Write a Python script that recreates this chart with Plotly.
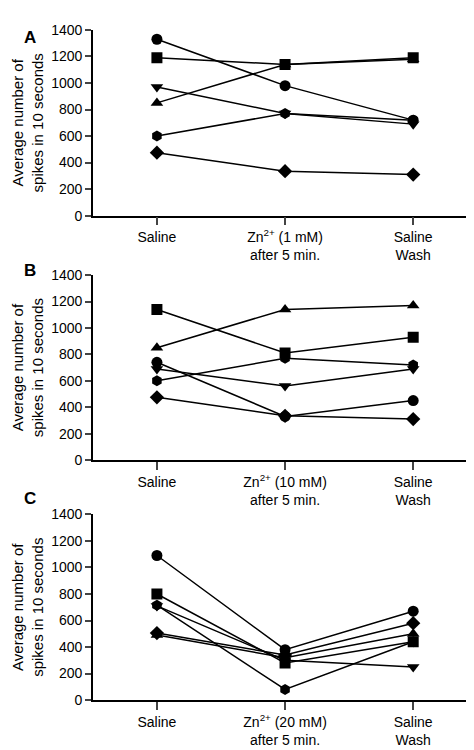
import plotly.graph_objects as go

conds_A = ["Saline", "Zn<sup>2+</sup> (1 mM)<br>after 5 min.", "Saline<br>Wash"]
conds_B = ["Saline", "Zn<sup>2+</sup> (10 mM)<br>after 5 min.", "Saline<br>Wash"]
conds_C = ["Saline", "Zn<sup>2+</sup> (20 mM)<br>after 5 min.", "Saline<br>Wash"]

symbols = ["circle", "square", "triangle-up", "triangle-down", "hexagon", "diamond"]

A = [[1330, 980, 720], [1190, 1140, 1190], [850, 1140, 1180],
     [970, 770, 690], [600, 770, 720], [475, 335, 310]]
B = [[740, 330, 450], [1140, 810, 930], [850, 1140, 1170],
     [690, 560, 690], [600, 770, 720], [475, 335, 310]]
C = [[1090, 380, 670], [800, 280, 440], [490, 320, 500],
     [710, 300, 250], [715, 80, 440], [505, 340, 580]]

panels = [("A", A, conds_A, (0.728, 0.981)),
          ("B", B, conds_B, (0.395, 0.647)),
          ("C", C, conds_C, (0.068, 0.321))]

fig = go.Figure()
layout = {}
font = dict(family="Liberation Sans, Arial", size=14, color="black")
for i, (lab, data, conds, dom) in enumerate(panels):
    n = "" if i == 0 else str(i + 1)
    for s, vals in zip(symbols, data):
        fig.add_trace(go.Scatter(x=[0, 1, 2], y=vals, mode="lines+markers",
                                 xaxis="x" + n, yaxis="y" + n,
                                 line=dict(color="black", width=1.5),
                                 marker=dict(symbol=s, size=11, color="black"),
                                 showlegend=False))
    layout["xaxis" + n] = dict(domain=[0.179, 0.99], range=[-0.5, 2.5], anchor="y" + n,
                               tickvals=[0, 1, 2], ticktext=conds, showline=True,
                               linecolor="black", linewidth=1.5, ticks="outside",
                               ticklen=8, tickwidth=1.5, showgrid=False, zeroline=False,
                               tickfont=font)
    layout["yaxis" + n] = dict(domain=list(dom), range=[0, 1400], anchor="x" + n,
                               tickvals=list(range(0, 1401, 200)), showline=True,
                               linecolor="black", linewidth=1.5, ticks="outside",
                               ticklen=6, tickwidth=1.5, showgrid=False, zeroline=False,
                               tickfont=font,
                               title=dict(text="Average number of<br>spikes in 10 seconds",
                                          font=dict(family="Liberation Sans, Arial", size=15, color="black"),
                                          standoff=4))
    fig.add_annotation(text="<b>" + lab + "</b>", xref="paper", yref="paper",
                       x=0.03, y=dom[1] + 0.006, showarrow=False,
                       font=dict(family="Liberation Sans, Arial", size=17, color="black"))

fig.update_layout(**layout, width=474, height=750, margin=dict(l=0, r=0, t=0, b=0),
                  plot_bgcolor="white", paper_bgcolor="white")
fig.write_html("out.html")
